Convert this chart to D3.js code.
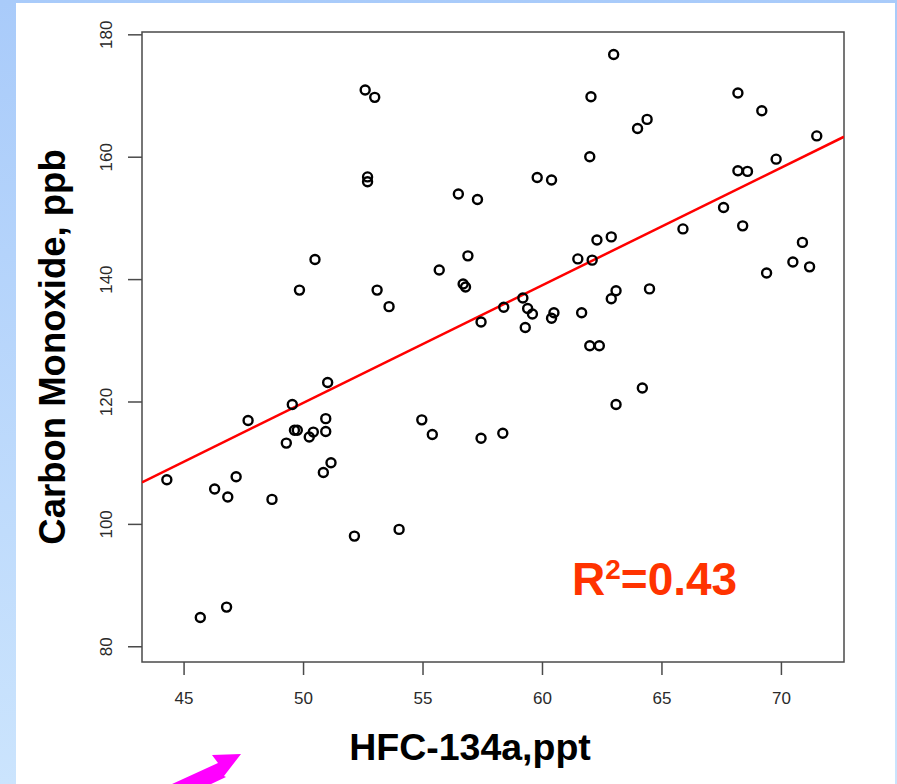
<!DOCTYPE html>
<html>
<head>
<meta charset="utf-8">
<script src="https://cdn.jsdelivr.net/npm/d3@7"></script>
<style>
  html, body { margin: 0; padding: 0; }
  body { width: 897px; height: 784px; overflow: hidden; }
  text { font-family: "Liberation Sans", Arial, Helvetica, sans-serif; }
</style>
</head>
<body>
<svg id="chart" width="897" height="784"></svg>
<script>
// ---- data ----
const hfc = [44.3, 45.7, 46.8, 46.3, 46.85, 47.2, 47.7, 48.7, 49.3, 49.55, 49.64, 49.76,
  50.26, 50.43, 50.95, 50.95, 51.03, 50.85, 51.17, 52.15, 50.5, 49.85, 52.6, 53.0,
  52.7, 52.7, 53.1, 53.6, 54.02, 54.97, 55.41, 55.7, 56.5, 57.3, 56.9, 56.7, 56.8,
  57.45, 57.45, 58.36, 58.4, 59.2, 59.4, 59.6, 59.3, 59.8, 60.4, 60.4, 60.5, 61.66,
  61.5, 62.1, 62.3, 62.9, 62.9, 63.1, 62.0, 62.4, 62.0, 62.05, 63.0, 64.0, 64.4,
  64.5, 64.2, 63.1, 65.9, 67.6, 68.4, 68.2, 68.6, 68.2, 69.2, 69.8, 71.5, 70.9,
  70.5, 71.2, 69.4];
const co = [107.2, 84.7, 86.4, 105.7, 104.4, 107.7, 116.9, 104.0, 113.2, 119.5, 115.3, 115.3,
  114.2, 115.0, 117.2, 115.1, 123.1, 108.4, 110.0, 98.0, 143.2, 138.2, 170.9, 169.7,
  156.7, 155.9, 138.2, 135.5, 99.1, 117.0, 114.6, 141.5, 153.9, 153.0, 143.8, 139.2, 138.7,
  133.0, 114.0, 114.8, 135.4, 136.9, 135.2, 134.3, 132.1, 156.6, 156.2, 133.6, 134.5, 134.5,
  143.3, 143.1, 146.4, 146.9, 136.8, 138.1, 129.1, 129.1, 160.0, 169.8, 176.7, 164.6, 166.1,
  138.4, 122.2, 119.5, 148.2, 151.7, 148.7, 157.7, 157.6, 170.4, 167.5, 159.6, 163.4, 146.0,
  142.8, 142.0, 141.0];
const xTicks = [45, 50, 55, 60, 65, 70];
const yTicks = [80, 100, 120, 140, 160, 180];
const fitCoef = [23.65, 1.922];   // intercept, slope of the red regression line
const rSquaredLabel = "0.43";
const xTitle = "HFC-134a,ppt";
const yTitle = "Carbon Monoxide, ppb";

// ---- layout ----
const svg = d3.select("#chart");
const W = 897, H = 784;
const plot = { left: 142, right: 844, top: 32, bottom: 662 };

// background
const defs = svg.append("defs");
const grad = defs.append("linearGradient").attr("id", "bg").attr("x1", 0).attr("y1", 0).attr("x2", 0).attr("y2", 1);
grad.append("stop").attr("offset", "0%").attr("stop-color", "#a9cbfa");
grad.append("stop").attr("offset", "100%").attr("stop-color", "#cbe4fd");
svg.append("rect").attr("width", W).attr("height", H).attr("fill", "url(#bg)");
svg.append("rect").attr("x", 16).attr("y", 3).attr("width", 895 - 16).attr("height", H - 3).attr("fill", "#ffffff");

const x = d3.scaleLinear().domain([43.26, 72.64]).range([plot.left, plot.right]);
const y = d3.scaleLinear().domain([77.43, 180.38]).range([plot.bottom, plot.top]);

defs.append("clipPath").attr("id", "clip").append("rect")
  .attr("x", plot.left).attr("y", plot.top)
  .attr("width", plot.right - plot.left).attr("height", plot.bottom - plot.top);

// axes
const axisColor = "#4a4a4a";
const gx = svg.append("g").attr("transform", `translate(0,${plot.bottom})`)
  .call(d3.axisBottom(x).tickValues(xTicks).tickSize(13).tickPadding(17).tickFormat(d3.format("d")));
gx.select(".domain").remove();
gx.selectAll("line").attr("stroke", axisColor).attr("stroke-width", 1.5);
gx.selectAll("text").attr("font-size", 17).attr("fill", "#2a2a2a").attr("font-family", "'Liberation Sans', Arial, sans-serif");

const gy = svg.append("g").attr("transform", `translate(${plot.left},0)`)
  .call(d3.axisLeft(y).tickValues(yTicks).tickSize(14).tickFormat(""));
gy.select(".domain").remove();
gy.selectAll("line").attr("stroke", axisColor).attr("stroke-width", 1.5);
gy.selectAll(".tick").append("text")
  .attr("transform", "rotate(-90)")
  .attr("x", 0).attr("y", -30)
  .attr("text-anchor", "middle")
  .attr("font-size", 17).attr("fill", "#2a2a2a")
  .text(d => d);

// box
svg.append("rect")
  .attr("x", plot.left).attr("y", plot.top)
  .attr("width", plot.right - plot.left).attr("height", plot.bottom - plot.top)
  .attr("fill", "none").attr("stroke", axisColor).attr("stroke-width", 1.5);

// regression line
const xd = x.domain();
svg.append("line")
  .attr("clip-path", "url(#clip)")
  .attr("x1", x(xd[0])).attr("y1", y(fitCoef[0] + fitCoef[1] * xd[0]))
  .attr("x2", x(xd[1])).attr("y2", y(fitCoef[0] + fitCoef[1] * xd[1]))
  .attr("stroke", "#ff0000").attr("stroke-width", 2.5);

// points
const pts = hfc.map((v, i) => ({ x: v, y: co[i] }));
svg.append("g").selectAll("circle").data(pts).join("circle")
  .attr("cx", d => x(d.x)).attr("cy", d => y(d.y)).attr("r", 4.5)
  .attr("fill", "none").attr("stroke", "#000").attr("stroke-width", 2.4);

// titles
svg.append("text").attr("x", 470).attr("y", 760)
  .attr("text-anchor", "middle").attr("font-size", 37.5).attr("font-weight", "bold").attr("fill", "#000")
  .text(xTitle);
svg.append("text").attr("transform", "translate(65,347) rotate(-90)")
  .attr("text-anchor", "middle").attr("font-size", 36.5).attr("font-weight", "bold").attr("fill", "#000")
  .text(yTitle);

// R squared
const rt = svg.append("text").attr("x", 572).attr("y", 595)
  .attr("font-size", 46).attr("font-weight", "bold").attr("fill", "#ff3300");
rt.append("tspan").text("R");
rt.append("tspan").attr("font-size", 28).attr("dy", -16).text("2");
rt.append("tspan").attr("dy", 16).text("=" + rSquaredLabel);

// magenta arrow (decoration at the bottom left)
svg.append("polygon")
  .attr("points", "241,754 212,755 218,763 148,795 156,810 226,777 224,776")
  .attr("fill", "#ff00ff");
</script>
</body>
</html>
